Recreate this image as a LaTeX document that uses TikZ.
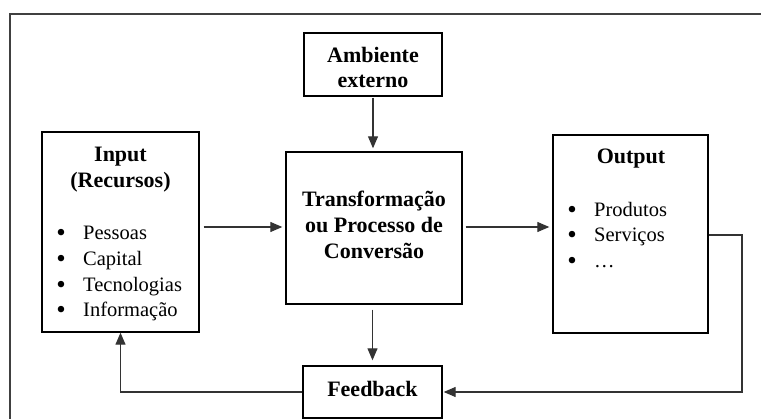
\documentclass[tikz,border=0pt]{standalone}
\usepackage{fontspec}
\setmainfont{Liberation Serif}
\usetikzlibrary{arrows.meta}
\begin{document}
\begin{tikzpicture}[x=1pt,y=-1pt,
  box/.style={draw=black,line width=1.4pt,rectangle,inner sep=0pt},
  conn/.style={draw=black!80,line width=1.2pt,-{Triangle[length=12pt,width=10pt]}},
  head/.style={anchor=base,inner sep=0pt,font=\fontsize{22}{26}\selectfont\bfseries},
  item/.style={anchor=base west,inner sep=0pt,font=\fontsize{20.5}{25}\selectfont},
  bul/.style={anchor=base,inner sep=0pt,font=\fontsize{27}{25}\selectfont}]
\useasboundingbox (0,0) rectangle (761,419);
\fill[white] (0,0) rectangle (761,419);
% outer frame (cut by the page)
\draw[black!75,line width=1.4pt] (10,419) -- (10,14) -- (761,14);
% boxes
\node[box,minimum width=138pt,minimum height=63pt] (amb) at (373,64.5) {};
\node[box,minimum width=176pt,minimum height=152pt] (trans) at (374,228) {};
\node[box,minimum width=157pt,minimum height=200pt] (inp) at (120.5,232) {};
\node[box,minimum width=155pt,minimum height=198pt] (out) at (630.5,234) {};
\node[box,minimum width=139pt,minimum height=52pt] (fb) at (372.5,392) {};
% texts
\node[head] (a1) at (373,63) {Ambiente};
\node[head] (a2) at (373,88) {externo};
\node[head] (tr1) at (374,207) {Transformação};
\node[head] (tr2) at (374,233) {ou Processo de};
\node[head] (tr3) at (374,259) {Conversão};
\node[head] (i1) at (120.5,162) {Input};
\node[head] (i2) at (120.5,188) {(Recursos)};
\node[bul] (ib1) at (61,242) {•};
\node[bul] (ib2) at (61,268) {•};
\node[bul] (ib3) at (61,293.5) {•};
\node[bul] (ib4) at (61,319) {•};
\node[item] (it1) at (83,240) {Pessoas};
\node[item] (it2) at (83,266) {Capital};
\node[item] (it3) at (83,291.5) {Tecnologias};
\node[item] (it4) at (83,317) {Informação};
\node[head] (o1) at (631,164) {Output};
\node[bul] (ob1) at (572,219) {•};
\node[bul] (ob2) at (572,244) {•};
\node[bul] (ob3) at (572,270) {•};
\node[item] (ot1) at (594,217) {Produtos};
\node[item] (ot2) at (594,242) {Serviços};
\node[item] (ot3) at (594,268) {…};
\node[head] (f1) at (372.5,397) {Feedback};
% connectors
\coordinate (lv) at (0,227);
\coordinate (oc) at (742,235);
\draw[conn,shorten <=1pt,shorten >=3pt] (amb.south) -- (amb.south |- trans.north);
\draw[conn,shorten <=4pt,shorten >=3pt] (inp.east |- lv) -- (trans.west |- lv);
\draw[conn,shorten <=3pt,shorten >=3pt] (trans.east |- lv) -- (out.west |- lv);
\draw[conn,shorten <=5pt,shorten >=5pt] (trans.south -| fb.north) -- (fb.north);
\draw[conn,shorten >=1pt] (out.east |- oc) -- (oc) -- (oc |- fb.east) -- (fb.east);
\draw[conn] (fb.west) -| (inp.south);
\end{tikzpicture}
\end{document}
